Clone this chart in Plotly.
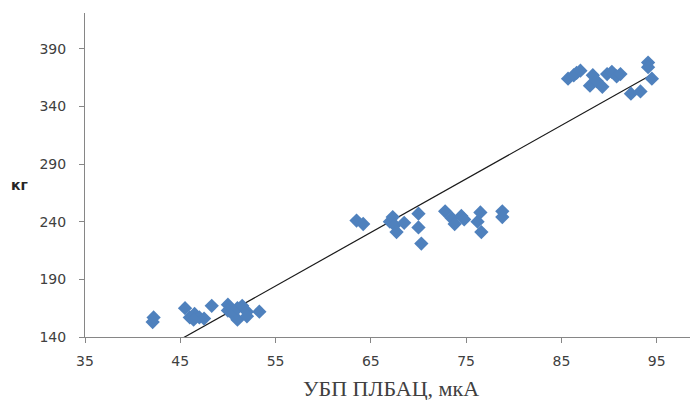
import numpy as np
import plotly.graph_objects as go

# Data
x_vals = [42.1, 42.2, 45.5, 46.0, 46.5, 47.0, 47.5, 46.4, 48.3, 50.0, 50.0, 50.5, 51.0, 51.0, 51.5, 52.0, 52.0, 53.3,
          63.5, 64.2, 67.0, 67.3, 67.5, 67.7, 68.5, 70.0, 70.0, 70.3,
          72.8, 73.5, 73.8, 74.5, 74.8, 76.2, 76.5, 76.6, 78.8, 78.8,
          85.7, 86.3, 86.6, 87.0, 88.0, 88.3, 88.7, 89.3, 89.8, 90.3, 90.8, 91.2, 92.3, 93.3, 94.1, 94.1, 94.5]
y_vals = [153, 157, 165, 157, 160, 157, 156, 155, 167, 168, 163, 160, 155, 165, 167, 162, 158, 162,
          241, 238, 240, 244, 237, 231, 239, 247, 235, 221,
          249, 243, 238, 245, 242, 240, 248, 231, 249, 244,
          364, 367, 369, 371, 358, 367, 362, 357, 368, 370, 366, 368, 351, 353, 378, 374, 364]

x_ticks = [35, 45, 55, 65, 75, 85, 95]
y_ticks = [140, 190, 240, 290, 340, 390]
x_title = "УБП ПЛБАЦ, мкА"
y_title = "кг"

# Linear trendline (least squares), spanning the data's x range
slope, intercept = np.polyfit(x_vals, y_vals, 1)
tx = [min(x_vals), max(x_vals)]
ty = [slope * v + intercept for v in tx]

fig = go.Figure()
fig.add_trace(go.Scatter(x=tx, y=ty, mode="lines",
                         line=dict(color="#1a1a1a", width=1.2), hoverinfo="skip", showlegend=False))
fig.add_trace(go.Scatter(x=x_vals, y=y_vals, mode="markers",
                         marker=dict(symbol="diamond", size=11, color="#4F81BD",
                                     line=dict(width=0)), showlegend=False))

axis_common = dict(showgrid=False, zeroline=False, showline=True, linecolor="#868686", linewidth=1,
                   ticks="outside", ticklen=5, tickcolor="#868686",
                   tickfont=dict(family="DejaVu Sans", size=14, color="#404040"))

fig.update_layout(
    width=694, height=400,
    margin=dict(l=85, r=4, t=13, b=63),
    paper_bgcolor="white", plot_bgcolor="white",
    xaxis=dict(range=[35, 98.5], tickvals=x_ticks, ticklabelstandoff=6, **axis_common),
    yaxis=dict(range=[140, 421], tickvals=y_ticks, ticklabelstandoff=10, **axis_common),
    annotations=[
        dict(text=x_title, xref="paper", yref="paper", x=0.506, y=-0.16, yanchor="middle",
             showarrow=False, font=dict(family="Liberation Serif", size=22, color="#404040")),
        dict(text="<b>" + y_title + "</b>", xref="paper", yref="paper", x=-0.125, xanchor="left",
             y=0.469, yanchor="middle", showarrow=False,
             font=dict(family="DejaVu Sans", size=14, color="#262626")),
    ],
)

fig.write_html("out.html", config={"displayModeBar": False},
               post_script="document.body.style.margin='0';")
